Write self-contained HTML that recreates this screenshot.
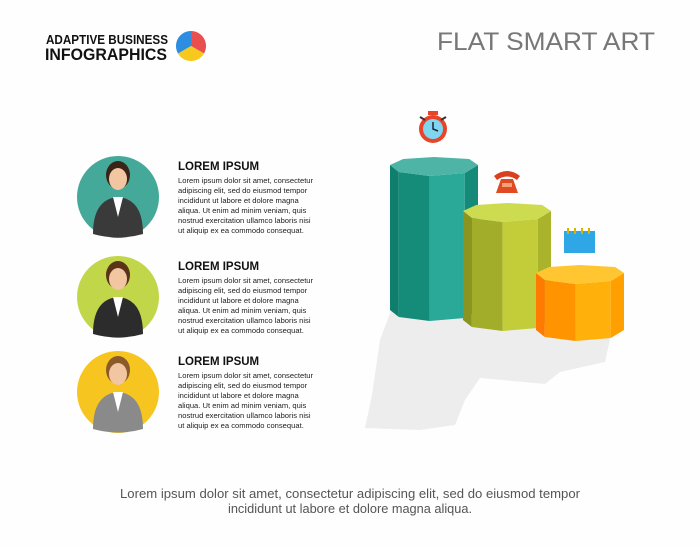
<!DOCTYPE html>
<html><head><meta charset="utf-8"><style>
body{margin:0;background:#fff;width:700px;height:547px;overflow:hidden;font-family:"Liberation Sans",sans-serif}
svg{position:absolute;left:0;top:0}
</style></head><body>
<svg id="s" width="700" height="547" viewBox="0 0 700 547">
<rect width="700" height="547" fill="#fefefe"/>
<g>
<text x="46" y="44" font-size="12.5" font-weight="bold" fill="#111" textLength="122" lengthAdjust="spacingAndGlyphs">ADAPTIVE BUSINESS</text>
<text x="45" y="60" font-size="16.5" font-weight="bold" fill="#111" textLength="122" lengthAdjust="spacingAndGlyphs">INFOGRAPHICS</text>
</g>
<g>
<path d="M191,46 L191,31 A15,15 0 0 1 204,53.5 Z" fill="#ea4f4f"/>
<path d="M191,46 L204,53.5 A15,15 0 0 1 178,53.5 Z" fill="#f6c91c"/>
<path d="M191,46 L178,53.5 A15,15 0 0 1 191,31 Z" fill="#2d8de0"/>
</g>
<text x="437" y="50" font-size="25" fill="#777" textLength="218" lengthAdjust="spacingAndGlyphs">FLAT SMART ART</text>
<g id="people"></g>
<path d="M395,300 L460,312 L540,322 L612,330 L605,362 L560,372 L545,384 L480,378 L465,400 L455,425 L420,430 L365,428 L372,395 L380,340 Z" fill="#ededed"/>
<g id="bars"></g>
<g>
<rect x="428" y="111" width="10" height="4" fill="#e8442a"/>
<circle cx="433" cy="129" r="14" fill="#e8442a"/><circle cx="433" cy="129" r="10" fill="#7fd6f0"/>
<path d="M433,122 L433,129 L438,131" stroke="#223" stroke-width="1.5" fill="none"/>
<path d="M420,117 l5,3 M446,117 l-5,3" stroke="#333" stroke-width="2"/>
</g>
<g>
<path d="M494,176 Q507,166 520,176 L517,180 Q507,173 497,180 Z" fill="#d9401f"/>
<path d="M501,179 L513,179 L518,193 L496,193 Z" fill="#e04a20"/>
<rect x="502" y="183" width="10" height="4" fill="#f5a07a"/>
</g>
<g>
<rect x="564" y="231" width="31" height="22" fill="#2fa7e6"/>
<path d="M568,228v6M575,228v6M582,228v6M589,228v6" stroke="#d8b400" stroke-width="2"/>
</g>
<g font-size="12.5" fill="#555" text-anchor="middle">
<text x="350" y="498" textLength="460" lengthAdjust="spacingAndGlyphs">Lorem ipsum dolor sit amet, consectetur adipiscing elit, sed do eiusmod tempor</text>
<text x="350" y="513" textLength="244" lengthAdjust="spacingAndGlyphs">incididunt ut labore et dolore magna aliqua.</text>
</g>
</svg>
<script>
const ns="http://www.w3.org/2000/svg";
const s=document.getElementById('s');
// chart data
const categories=["time","communication","planning"];
const values=[153,117,65];
const bottoms=[310,320,330];
const barColors=[["#0e7e6d","#148c79","#2aa898","#168a78","#4db4a6"],["#8a9420","#a2ad2a","#c3cd3a","#a9b42c","#cddb50"],["#ff7a00","#ff9300","#ffb00a","#ffa000","#ffc632"]];
const xs=[390,463,536];const w=88;
const bars=document.getElementById('bars');
function el(t,a,p){const e=document.createElementNS(ns,t);for(const k in a)e.setAttribute(k,a[k]);p.appendChild(e);return e;}
categories.forEach((c,i)=>{
 const x=xs[i],b=bottoms[i],t=b-values[i];
 const g=el('g',{},bars);
 
 
 const ex=[0,0.1,0.45,0.85,1].map(f=>x+f*w), ey=[8,15,19,16,8];
 for(let k=0;k<4;k++){
  el('polygon',{points:`${ex[k]},${t+ey[k]} ${ex[k+1]},${t+ey[k+1]} ${ex[k+1]},${b+ey[k+1]-8} ${ex[k]},${b+ey[k]-8}`,fill:barColors[i][k]},g);
 }
 const tp=[[0,8],[0.15,2],[0.5,0],[0.9,2],[1,8],[0.85,16],[0.45,19],[0.1,15]].map(p=>`${x+p[0]*w},${t+p[1]}`).join(' ');
 el('polygon',{points:tp,fill:barColors[i][4]},g);
});
// people
const pcs=[197,297,392];const pc=["#45a99a","#c2d64a","#f7c520"];
const suit=["#3a3a3a","#2c2c2c","#8a8a8a"];const hair=["#3a2418","#5a3418","#8a5a2a"];
const heads=["LOREM IPSUM","LOREM IPSUM","LOREM IPSUM"];
const body=["Lorem ipsum dolor sit amet, consectetur","adipiscing elit, sed do eiusmod tempor","incididunt ut labore et dolore magna","aliqua. Ut enim ad minim veniam, quis","nostrud exercitation ullamco laboris nisi","ut aliquip ex ea commodo consequat."];
const P=document.getElementById('people');
pcs.forEach((cy,i)=>{
 const g=el('g',{},P);
 
 
 el('circle',{cx:118,cy:cy,r:41,fill:pc[i]},g);
 el('path',{d:`M93,${cy+37} Q93,${cy+2} 118,${cy} Q143,${cy+2} 143,${cy+37} Q118,${cy+44} 93,${cy+37}Z`,fill:suit[i]},g);
 el('path',{d:`M113,${cy} L118,${cy+20} L123,${cy} Z`,fill:"#fff"},g);
 el('ellipse',{cx:118,cy:cy-22,rx:12,ry:14,fill:hair[i]},g);
 el('ellipse',{cx:118,cy:cy-18,rx:9,ry:11,fill:"#f2c6a0"},g);
 const tg=el('g',{},g);
 
 
 const h=el('text',{x:178,y:cy-27,'font-size':11.5,'font-weight':'bold',fill:'#111'},tg);h.textContent=heads[i];
 body.forEach((l,k)=>{const e=el('text',{x:178,y:cy-14+k*10,'font-size':7.6,fill:'#222'},tg);e.textContent=l;});
});
</script>
</body></html>
